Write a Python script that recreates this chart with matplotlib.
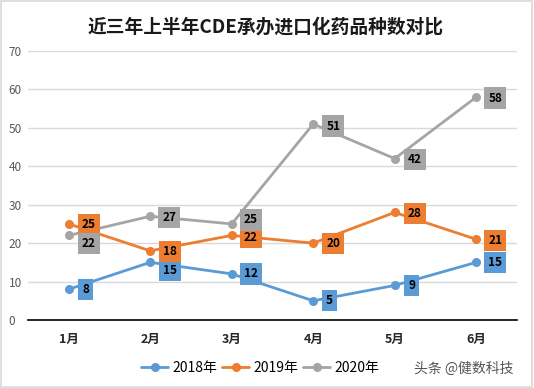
import matplotlib.pyplot as plt
import numpy as np

plt.rcParams['font.family'] = ['Noto Sans CJK SC', 'DejaVu Sans']

months = ["1月", "2月", "3月", "4月", "5月", "6月"]
years = ["2018年", "2019年", "2020年"]
v2018 = [8, 15, 12, 5, 9, 15]
v2019 = [25, 18, 22, 20, 28, 21]
v2020 = [22, 27, 25, 51, 42, 58]

colors = ["#5B9BD5", "#ED7D31", "#A5A5A5"]
# label offsets in pixels (dx, dy), dy positive = down
offsets = [
    [(17, 0), (20, 8), (19, 0), (16, 0), (17, 0), (19, 0)],
    [(20, 1), (20, 1), (19, 2), (20, 0), (20, 1), (19, 1)],
    [(20, 8), (19, 1), (19, -4), (20, 2), (20, 1), (19, 1)],
]

fig = plt.figure(figsize=(5.34, 3.88), dpi=100)
ax = fig.add_axes([28/534, 1-320/388, 489/534, 269/388])

x = np.arange(len(months))
px = 72/100  # pixel -> points
for vals, c, lab, offs in zip([v2018, v2019, v2020], colors, years, offsets):
    ax.plot(x, vals, color=c, lw=2.0, marker='o', ms=5.5, label=lab, zorder=3,
            solid_capstyle='round')
    for xi, v, (dx, dy) in zip(x, vals, offs):
        ax.annotate(str(v), (xi, v), xytext=(dx*px, -dy*px), textcoords='offset points',
                    ha='center', va='center', fontsize=8.5, fontweight='bold', color='black',
                    bbox=dict(boxstyle='square,pad=0.35', fc=c, ec='none'), zorder=4)

ax.set_xlim(-0.5, 5.5)
ax.set_ylim(0, 70)
ax.set_yticks(range(0, 71, 10))
ax.set_xticks(x)
ax.set_xticklabels(months, fontsize=9, fontweight='bold', color='#262626')
ax.tick_params(axis='y', labelsize=8.5, labelcolor='#595959', length=0, pad=14)
ax.tick_params(axis='x', length=0, pad=9)
for lab in ax.get_yticklabels():
    lab.set_horizontalalignment('left')
ax.grid(axis='y', color='#D9D9D9', lw=1)
ax.set_axisbelow(True)
for s in ['top', 'right', 'left']:
    ax.spines[s].set_visible(False)
ax.spines['bottom'].set_color('black')
ax.spines['bottom'].set_linewidth(1.2)

fig.text(0.497, 1-27/388, "近三年上半年CDE承办进口化药品种数对比", ha='center', va='center',
         fontsize=13.5, fontweight='bold', color='#1a1a1a')

leg = fig.legend(loc='center', bbox_to_anchor=(0.487, 1-368/388), ncol=3, frameon=False,
                 fontsize=10, handlelength=2.0, columnspacing=0.3, handletextpad=0.3)

fig.text(0.868, 1-369/388, "头条 @健数科技", ha='center', va='center', fontsize=10, color='#555555')

# outer light border
fig.patches.append(plt.Rectangle((0.002, 0.003), 0.994, 0.994, transform=fig.transFigure,
                                 fill=False, ec='#D9D9D9', lw=1.2))

fig.savefig("out.png", dpi=100)
